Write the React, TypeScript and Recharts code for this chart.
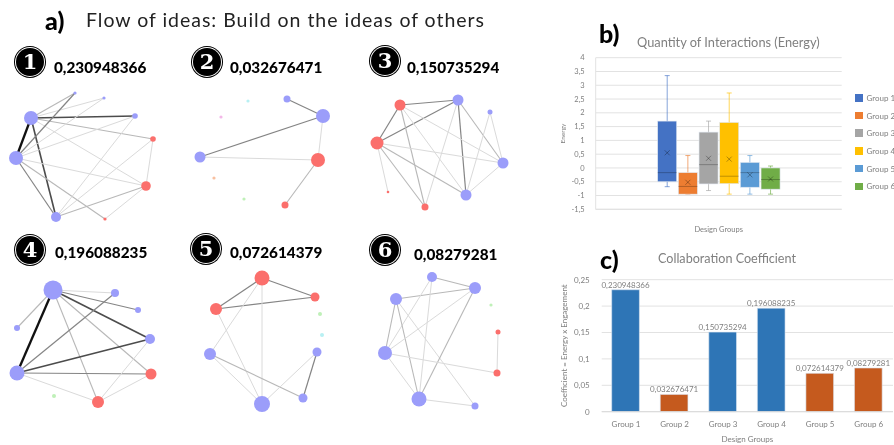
import {
  Bar, BarChart, CartesianGrid, Cell, LabelList, Scatter, ScatterChart, XAxis, YAxis,
} from 'recharts';

const FONT = 'Lato, sans-serif';
const GREY = '#7f7f7f';

// panel c
const groups = ['Group 1', 'Group 2', 'Group 3', 'Group 4', 'Group 5', 'Group 6'];
const coefficients = [0.230948366, 0.032676471, 0.150735294, 0.196088235, 0.072614379, 0.08279281];
const coefTicks = [0, 0.05, 0.1, 0.15, 0.2, 0.25];

// panel b: min, q1, median, q3, max, mean for each group
const energyStats = [
  [-0.68, -0.5, -0.17, 1.7, 3.35, 0.55],
  [-0.95, -0.95, -0.67, -0.17, 0.45, -0.52],
  [-0.82, -0.58, 0.12, 1.3, 1.7, 0.35],
  [-0.95, -0.57, -0.3, 1.65, 2.72, 0.32],
  [-0.95, -0.7, -0.17, 0.2, 0.45, -0.25],
  [-0.95, -0.77, -0.42, 0, 0.07, -0.4],
];
const energyTicks = [-1.5, -1, -0.5, 0, 0.5, 1, 1.5, 2, 2.5, 3, 3.5, 4];
const boxColors = ['#4472C4', '#ED7D31', '#A5A5A5', '#FFC000', '#5B9BD5', '#70AD47'];

// panel a: nodes are x, y, size, kind and edges are from, to, weight
const nodes1 = [[75, 93, 1.6, 'b'], [104, 98, 1.6, 'b'], [135, 116, 2.8, 'b'], [153, 139, 2.8, 'r'], [146, 186, 4.8, 'r'], [105, 219, 1.6, 'r'], [56, 217, 5, 'b'], [16, 158, 7, 'b'], [31, 118, 7, 'b']];
const edges1 = [[8, 0, 2], [8, 1, 1], [8, 2, 4], [8, 3, 2], [8, 4, 1], [8, 6, 4], [8, 7, 5], [7, 0, 3], [7, 1, 1], [7, 2, 1], [7, 4, 1], [7, 6, 3], [7, 5, 2], [6, 2, 1], [6, 3, 1], [6, 4, 2], [5, 4, 1], [3, 4, 1]];
const nodes2 = [[287, 99, 3.5, 'b'], [323, 116, 7, 'b'], [200, 157, 5.5, 'b'], [318, 160, 7, 'r'], [285, 205, 3.5, 'r'], [248, 101, 1.6, 'c'], [221, 117, 1.6, 'p'], [214, 178, 1.6, 'o'], [244, 199, 1.6, 'g']];
const edges2 = [[2, 1, 3], [0, 1, 3], [2, 3, 1], [1, 3, 1], [3, 4, 2]];
const nodes3 = [[400, 105, 5.5, 'r'], [458, 100, 5.5, 'b'], [490, 112, 2.5, 'b'], [503, 163, 5.5, 'b'], [466, 195, 5.5, 'b'], [425, 207, 3.5, 'r'], [388, 192, 1.3, 'r'], [377, 143, 6.5, 'r']];
const edges3 = [[0, 1, 3], [0, 7, 3], [7, 1, 3], [1, 3, 2], [1, 4, 3], [1, 5, 1], [0, 5, 2], [0, 4, 1], [0, 3, 1], [7, 3, 1], [7, 4, 2], [7, 5, 2], [7, 6, 1], [2, 3, 1], [2, 4, 1], [3, 4, 1]];
const nodes4 = [[53, 290, 9.5, 'b'], [115, 293, 4, 'b'], [138, 310, 3, 'b'], [17, 328, 3, 'b'], [150, 339, 5, 'b'], [151, 374, 5.5, 'r'], [98, 402, 6, 'r'], [17, 373, 7.5, 'b'], [54, 396, 2, 'g']];
const edges4 = [[0, 7, 5], [0, 1, 1], [0, 2, 3], [0, 4, 4], [0, 5, 2], [0, 6, 2], [0, 3, 2], [7, 1, 3], [7, 4, 4], [7, 5, 3], [7, 6, 1], [5, 6, 1], [4, 6, 1]];
const nodes5 = [[262, 278, 7.5, 'r'], [315, 297, 4.5, 'r'], [216, 309, 6, 'r'], [210, 354, 6, 'b'], [262, 404, 8, 'b'], [303, 398, 4.5, 'b'], [317, 352, 4.5, 'b'], [320, 314, 2, 'g'], [322, 335, 2, 'c']];
const edges5 = [[0, 2, 3], [0, 1, 3], [2, 1, 3], [0, 3, 1], [0, 4, 1], [2, 4, 1], [3, 4, 1], [3, 5, 2], [4, 6, 1], [5, 6, 3]];
const nodes6 = [[432, 277, 5, 'b'], [475, 288, 6, 'b'], [396, 299, 6, 'b'], [385, 353, 7, 'b'], [419, 399, 7.5, 'b'], [475, 406, 3.5, 'b'], [498, 332, 2.5, 'r'], [497, 373, 3.5, 'r'], [491, 305, 1.6, 'g']];
const edges6 = [[0, 1, 2], [2, 1, 2], [0, 3, 1], [0, 4, 1], [2, 3, 2], [2, 4, 2], [2, 5, 1], [3, 1, 1], [4, 1, 2], [3, 4, 1], [3, 7, 1], [4, 5, 1], [6, 7, 1]];

const networks = [
  { n: 1, nodes: nodes1, edges: edges1, coef: '0,230948366', xs: 0, ys: 85, bx: 30, by: 62, lx: 54, ly: 68 },
  { n: 2, nodes: nodes2, edges: edges2, coef: '0,032676471', xs: 178, ys: 85, bx: 207, by: 62, lx: 230, ly: 68 },
  { n: 3, nodes: nodes3, edges: edges3, coef: '0,150735294', xs: 356, ys: 85, bx: 385, by: 61, lx: 407, ly: 68 },
  { n: 4, nodes: nodes4, edges: edges4, coef: '0,196088235', xs: 0, ys: 270, bx: 30, by: 250, lx: 55, ly: 253 },
  { n: 5, nodes: nodes5, edges: edges5, coef: '0,072614379', xs: 178, ys: 270, bx: 206, by: 249, lx: 230, ly: 253 },
  { n: 6, nodes: nodes6, edges: edges6, coef: '0,08279281', xs: 356, ys: 270, bx: 385, by: 250, lx: 414, ly: 255 },
];

const kindColor: any = { b: '#9B9DFA', r: '#FB6F6C', c: '#B8F0F3', p: '#F3B8E8', o: '#F8C0A0', g: '#BFF0B8' };
const edgeColor = ['', '#dadada', '#b8b8b8', '#858585', '#4c4c4c', '#111111'];
const edgeWidth = [0, 1, 1.1, 1.2, 1.6, 2.3];

const energyRow: any = { name: 'Design Groups' };
groups.forEach((g, i) => { energyRow[g] = [energyStats[i][1], energyStats[i][3]]; });
const energyData = [energyRow];
const coefData = groups.map((name, i) => ({ name, value: coefficients[i] }));

const comma = (v: any) => String(v).replace('.', ',');

function Caption({ x, y, size, weight = 400, color = '#000', spacing = 0, children }: any) {
  return (
    <div style={{ position: 'absolute', left: x, top: y, transform: 'translateY(-50%)', fontFamily: FONT, fontSize: size, fontWeight: weight, color, letterSpacing: spacing, whiteSpace: 'nowrap', lineHeight: 1 }}>
      {children}
    </div>
  );
}

function Badge({ x, y, n }: any) {
  return (
    <div style={{ position: 'absolute', left: x - 14, top: y - 14, width: 28, height: 28, borderRadius: '50%', background: '#000', boxShadow: '0 0 0 1px #fff, 0 0 0 2px #000', color: '#fff', fontFamily: '"DejaVu Serif", serif', fontWeight: 700, fontSize: 21, lineHeight: '28px', textAlign: 'center' }}>
      {n}
    </div>
  );
}

function Network({ nodes, edges, xs, ys }: any) {
  const w = 178;
  const h = 145;
  return (
    <div style={{ position: 'absolute', left: xs, top: ys }}>
      <ScatterChart width={w} height={h} margin={{ top: 0, right: 0, bottom: 0, left: 0 }}>
        <XAxis type="number" dataKey="x" hide domain={[xs, xs + w]} />
        <YAxis type="number" dataKey="y" hide reversed domain={[ys, ys + h]} width={0} />
        {edges.map(([a, b, weight]: number[], i: number) => (
          <Scatter
            key={i}
            data={[a, b].map((k) => ({ x: nodes[k][0], y: nodes[k][1] }))}
            line={{ stroke: edgeColor[weight], strokeWidth: edgeWidth[weight] }}
            shape={() => null}
            isAnimationActive={false}
          />
        ))}
        <Scatter
          data={nodes.map((d: any[]) => ({ x: d[0], y: d[1], size: d[2], kind: d[3] }))}
          shape={(p: any) => <circle cx={p.cx} cy={p.cy} r={p.payload.size} fill={kindColor[p.payload.kind]} />}
          isAnimationActive={false}
        />
      </ScatterChart>
    </div>
  );
}

// box, whiskers, median and mean all scaled from the ranged bar that recharts hands us
const boxShape = (i: number) => (p: any) => {
  const [min, q1, med, q3, max, mean] = energyStats[i];
  const { x, y, width, height } = p;
  const perUnit = height / (q3 - q1);
  const yOf = (v: number) => y + (q3 - v) * perUnit;
  const cx = x + width / 2;
  const c = boxColors[i];
  return (
    <g>
      <g stroke={c} strokeOpacity={0.65} strokeWidth={1}>
        <line x1={cx} x2={cx} y1={yOf(max)} y2={yOf(min)} />
        <line x1={cx - 2.5} x2={cx + 2.5} y1={yOf(max)} y2={yOf(max)} />
        <line x1={cx - 2.5} x2={cx + 2.5} y1={yOf(min)} y2={yOf(min)} />
      </g>
      <rect x={x} y={y} width={width} height={height} fill={c} stroke="#dfe6f0" strokeWidth={0.6} />
      <line x1={x} x2={x + width} y1={yOf(med)} y2={yOf(med)} stroke="#000" strokeOpacity={0.25} />
      <g stroke="#000" strokeOpacity={0.3}>
        <line x1={cx - 2.5} x2={cx + 2.5} y1={yOf(mean) - 2.5} y2={yOf(mean) + 2.5} />
        <line x1={cx - 2.5} x2={cx + 2.5} y1={yOf(mean) + 2.5} y2={yOf(mean) - 2.5} />
      </g>
    </g>
  );
};

function BoxLegend() {
  return (
    <div style={{ position: 'absolute', left: 855, top: 89, fontFamily: FONT, fontSize: 8, color: GREY }}>
      {groups.map((g, i) => (
        <div key={g} style={{ display: 'flex', alignItems: 'center', height: 17.7, whiteSpace: 'nowrap' }}>
          <span style={{ width: 7.5, height: 7.5, background: boxColors[i], marginRight: 4 }} />
          {g}
        </div>
      ))}
    </div>
  );
}

function EnergyChart() {
  return (
    <div style={{ position: 'absolute', left: 560, top: 0 }}>
      <BarChart width={334} height={235} data={energyData} barSize={19} barGap={1.67} margin={{ top: 57.7, right: 52.3, bottom: 0, left: 0 }}>
        <CartesianGrid horizontal vertical={false} stroke="#e2e2e2" />
        <XAxis
          dataKey="name"
          tick={false}
          tickLine={false}
          axisLine={{ stroke: '#e2e2e2' }}
          height={25.7}
          label={{ value: 'Design Groups', position: 'insideBottom', offset: 3, fontSize: 7.5, fontFamily: FONT, fill: GREY }}
        />
        <YAxis
          width={35.7}
          domain={[-1.5, 4]}
          ticks={energyTicks}
          interval={0}
          tickFormatter={comma}
          tickLine={false}
          axisLine={{ stroke: '#e2e2e2' }}
          tick={{ fontSize: 7.5, fontFamily: FONT, fill: GREY }}
          tickMargin={5}
          label={{ value: 'Energy', angle: -90, position: 'insideLeft', offset: 3, fontSize: 6.5, fontFamily: FONT, fill: GREY, style: { textAnchor: 'middle' } }}
        />
        {groups.map((g, i) => (
          <Bar key={g} dataKey={g} fill={boxColors[i]} shape={boxShape(i)} isAnimationActive={false} />
        ))}
      </BarChart>
    </div>
  );
}

function CoefficientChart() {
  return (
    <div style={{ position: 'absolute', left: 560, top: 240 }}>
      <BarChart width={334} height={205} data={coefData} barSize={27.7} margin={{ top: 39.7, right: 1, bottom: 0, left: 0 }}>
        <CartesianGrid horizontal vertical={false} stroke="#e2e2e2" />
        <XAxis
          dataKey="name"
          interval={0}
          tickLine={false}
          axisLine={{ stroke: '#d9d9d9' }}
          tick={{ fontSize: 8, fontFamily: FONT, fill: GREY }}
          tickMargin={4}
          height={33.3}
          label={{ value: 'Design Groups', position: 'insideBottom', offset: 3, fontSize: 8, fontFamily: FONT, fill: GREY }}
        />
        <YAxis
          width={41.7}
          domain={[0, 0.25]}
          ticks={coefTicks}
          interval={0}
          tickFormatter={comma}
          tickLine={false}
          axisLine={false}
          tick={{ fontSize: 8, fontFamily: FONT, fill: GREY }}
          tickMargin={6}
          label={{ value: 'Coefficient = Energy x Engagement', angle: -90, position: 'insideLeft', offset: 4, fontSize: 8, fontFamily: FONT, fill: GREY, style: { textAnchor: 'middle' } }}
        />
        <Bar dataKey="value" isAnimationActive={false} stroke="#dbe6f2" strokeWidth={0.6}>
          {coefData.map((d, i) => <Cell key={d.name} fill={[0, 2, 3].includes(i) ? '#2E75B6' : '#C55A1E'} />)}
          <LabelList dataKey="value" position="top" offset={2} formatter={comma} fontSize={8} fontFamily={FONT} fill={GREY} />
        </Bar>
      </BarChart>
    </div>
  );
}

export default function App() {
  return (
    <div style={{ position: 'absolute', left: 0, top: 0, width: 894, height: 445, overflow: 'hidden', background: '#fff', filter: 'blur(0.35px)' }}>
      <Caption x={45} y={20} size={25} weight={900}>a)</Caption>
      <Caption x={86} y={20} size={19.5} spacing={0.98} color="#222">Flow of ideas: Build on the ideas of others</Caption>
      <Caption x={599} y={33} size={25} weight={900}>b)</Caption>
      <Caption x={600} y={259} size={25} weight={900}>c)</Caption>
      <Caption x={637} y={41.5} size={12.8} color={GREY}>Quantity of Interactions (Energy)</Caption>
      <Caption x={658} y={259} size={12.6} color={GREY}>Collaboration Coefficient</Caption>
      {networks.map((g) => (
        <div key={g.n}>
          <Badge x={g.bx} y={g.by} n={g.n} />
          <Caption x={g.lx} y={g.ly} size={15.3} weight={900}>{g.coef}</Caption>
          <Network nodes={g.nodes} edges={g.edges} xs={g.xs} ys={g.ys} />
        </div>
      ))}
      <EnergyChart />
      <BoxLegend />
      <CoefficientChart />
    </div>
  );
}
